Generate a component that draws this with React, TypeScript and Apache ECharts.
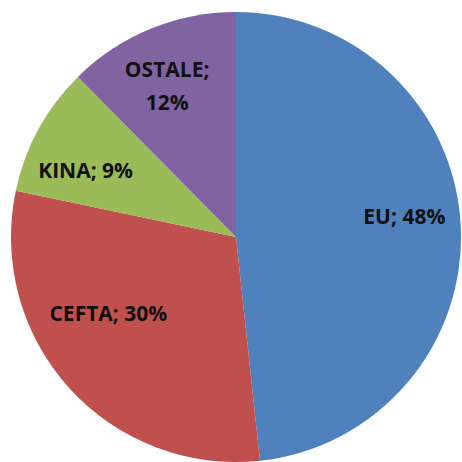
import React, { useEffect, useRef } from "react";
import * as echarts from "echarts";

const categories = ["EU", "CEFTA", "KINA", "OSTALE"];
const values = [48.3, 30.0, 9.3, 12.4];
const colors = ["#4F81BD", "#C0504D", "#9BBB59", "#8064A2"];
const labelShift = [
  [53, -15],
  [-42, -1],
  [-49, -12],
  [-25, -45],
];

export default function App() {
  const ref = useRef<HTMLDivElement>(null);
  useEffect(() => {
    document.body.style.margin = "0";
    const chart = echarts.init(ref.current!, null, { renderer: "svg" });
    chart.setOption({
      animation: false,
      backgroundColor: "#ffffff",
      series: [
        {
          type: "pie",
          center: [236, 237],
          radius: [0, 225],
          startAngle: 90,
          clockwise: true,
          avoidLabelOverlap: false,
          itemStyle: { borderWidth: 0 },
          label: {
            show: true,
            position: "inside",
            color: "#111",
            fontWeight: "bold",
            fontSize: 21,
            fontFamily: "Open Sans",
            lineHeight: 33,
            align: "center",
            formatter: (p: any) =>
              p.name === "OSTALE"
                ? `${p.name};\n${Math.round(p.percent)}%`
                : `${p.name}; ${Math.round(p.percent)}%`,
          },
          labelLine: { show: false },
          labelLayout: (p: any) => ({
            dx: labelShift[p.dataIndex][0],
            dy: labelShift[p.dataIndex][1],
          }),
          emphasis: { disabled: true },
          data: categories.map((c, i) => ({
            name: c,
            value: values[i],
            itemStyle: { color: colors[i] },
          })),
        },
      ],
    });
    return () => chart.dispose();
  }, []);
  return <div ref={ref} style={{ width: 462, height: 462 }} />;
}
